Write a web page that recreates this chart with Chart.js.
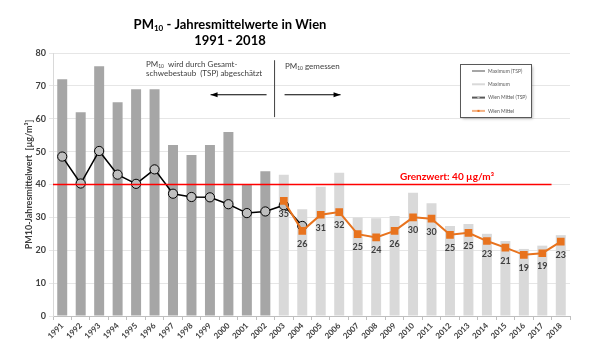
<!DOCTYPE html>
<html>
<head>
<meta charset="utf-8">
<script src="https://cdn.jsdelivr.net/npm/chart.js@4/dist/chart.umd.min.js"></script>
<style>
  html, body { margin: 0; padding: 0; background: #fff; }
  #wrap { width: 604px; height: 359px; }
</style>
</head>
<body>
<div id="wrap"><canvas id="pmChart" width="604" height="359"></canvas></div>
<script>
// Years on the x axis
const years = ['1991','1992','1993','1994','1995','1996','1997','1998','1999','2000','2001','2002','2003','2004',
  '2005','2006','2007','2008','2009','2010','2011','2012','2013','2014','2015','2016','2017','2018'];

// Maximum (TSP) bars, 1991-2002
const maxTsp = [72, 62, 76, 65, 69, 69, 52, 49, 52, 56, 40, 44,
  null, null, null, null, null, null, null, null, null, null, null, null, null, null, null, null];

// Maximum (PM10 measured) bars, 2003-2018
const maxPm10 = [null, null, null, null, null, null, null, null, null, null, null, null,
  43, 32.5, 39.3, 43.6, 30, 29.7, 30.4, 37.5, 34.3, 27.4, 28, 25, 22.8, 20.4, 21.4, 24.6];

// Wien Mittel (TSP estimated), 1991-2004
const meanTsp = [48.5, 40.3, 50.2, 43, 40.2, 44.6, 37.2, 36.2, 36.1, 34, 31.3, 31.8, 33.7, 27.4,
  null, null, null, null, null, null, null, null, null, null, null, null, null, null];

// Wien Mittel (measured), 2003-2018
const meanPm10 = [null, null, null, null, null, null, null, null, null, null, null, null,
  35, 25.9, 30.8, 31.6, 24.9, 23.9, 25.9, 30, 29.6, 24.7, 25.3, 22.8, 20.8, 18.6, 19.1, 22.6];

// Annual limit value
const limitValue = 40;

const yTicks = [0, 10, 20, 30, 40, 50, 60, 70, 80];

const textColor = '#404040';
const orange = '#e8731e';

// draw a run of text parts, some of them as subscript
function drawParts(ctx, parts, x, y, size, bold, align) {
  const w = bold ? 'bold ' : '';
  let total = 0;
  parts.forEach(p => {
    ctx.font = w + (p.sub ? size * 0.62 : size) + 'px Lato';
    total += ctx.measureText(p.t).width;
  });
  let cx = align === 'center' ? x - total / 2 : x;
  ctx.textAlign = 'left';
  ctx.textBaseline = 'middle';
  parts.forEach(p => {
    ctx.font = w + (p.sub ? size * 0.62 : size) + 'px Lato';
    ctx.fillText(p.t, cx, p.sub ? y + size * 0.25 : y);
    cx += ctx.measureText(p.t).width;
  });
}

function arrow(ctx, x1, x2, y) {
  ctx.beginPath();
  ctx.moveTo(x1, y);
  ctx.lineTo(x2, y);
  ctx.stroke();
  const d = x2 > x1 ? 1 : -1;
  ctx.beginPath();
  ctx.moveTo(x2, y);
  ctx.lineTo(x2 - d * 7, y - 2.5);
  ctx.lineTo(x2 - d * 7, y + 2.5);
  ctx.closePath();
  ctx.fill();
}

// Title, notes, limit line, value labels and legend box
const extras = {
  id: 'extras',
  beforeDraw(chart) {
    const ctx = chart.ctx;
    ctx.save();
    ctx.fillStyle = '#fff';
    ctx.fillRect(0, 0, chart.width, chart.height);
    ctx.restore();
  },
  afterDatasetsDraw(chart) {
    const ctx = chart.ctx;
    const x = chart.scales.x;
    const y = chart.scales.y;
    const area = chart.chartArea;
    ctx.save();

    // title
    ctx.fillStyle = '#000';
    drawParts(ctx, [{t: 'PM'}, {t: '10', sub: true}, {t: ' - Jahresmittelwerte in Wien'}], 230, 25, 13, true, 'center');
    drawParts(ctx, [{t: '1991 - 2018'}], 230, 41, 13, true, 'center');

    // limit line
    const ly = y.getPixelForValue(limitValue);
    const lend = (x.getPixelForValue(26) + x.getPixelForValue(27)) / 2;
    ctx.strokeStyle = '#ff0000';
    ctx.lineWidth = 1.5;
    ctx.beginPath();
    ctx.moveTo(area.left, ly);
    ctx.lineTo(lend, ly);
    ctx.stroke();
    ctx.fillStyle = '#ff0000';
    drawParts(ctx, [{t: 'Grenzwert: 40 µg/m³'}], 400, ly - 8, 10, true, 'left');

    // split between TSP and measured PM10
    const split = (x.getPixelForValue(11) + x.getPixelForValue(12)) / 2;
    ctx.strokeStyle = '#404040';
    ctx.lineWidth = 1;
    ctx.beginPath();
    ctx.moveTo(split, y.getPixelForValue(77.8));
    ctx.lineTo(split, y.getPixelForValue(60.5));
    ctx.stroke();
    ctx.fillStyle = '#000';
    ctx.strokeStyle = '#000';
    const ay = y.getPixelForValue(67.3);
    arrow(ctx, split - 8, split - 64, ay);
    arrow(ctx, split + 10, split + 66, ay);

    ctx.fillStyle = textColor;
    drawParts(ctx, [{t: 'PM'}, {t: '10', sub: true}, {t: '  wird durch Gesamt-'}], 146, 64, 8, false, 'left');
    drawParts(ctx, [{t: 'schwebestaub  (TSP) abgeschätzt'}], 146, 73, 8, false, 'left');
    drawParts(ctx, [{t: 'PM'}, {t: '10', sub: true}, {t: ' gemessen'}], 285, 66, 8, false, 'left');

    // value labels under the orange points
    const meta = chart.getDatasetMeta(3);
    ctx.fillStyle = textColor;
    ctx.font = 'bold 9px Lato';
    ctx.textAlign = 'center';
    ctx.textBaseline = 'middle';
    meta.data.forEach((pt, i) => {
      if (meanPm10[i] === null) return;
      ctx.fillText(String(Math.round(meanPm10[i])), pt.x, pt.y + 13);
    });

    // legend box
    ctx.shadowColor = 'rgba(0,0,0,0.35)';
    ctx.shadowBlur = 3;
    ctx.shadowOffsetX = 1.5;
    ctx.shadowOffsetY = 1.5;
    ctx.fillStyle = '#fff';
    ctx.fillRect(460, 64, 71, 53);
    ctx.shadowColor = 'transparent';
    ctx.strokeStyle = '#595959';
    ctx.lineWidth = 1;
    ctx.strokeRect(460.5, 64.5, 71, 53);
    const items = [
      {label: 'Maximum (TSP)', color: '#a6a6a6', mark: null},
      {label: 'Maximum', color: '#d9d9d9', mark: null},
      {label: 'Wien Mittel (TSP)', color: '#595959', mark: 'circle'},
      {label: 'Wien Mittel', color: '#f4b183', mark: 'square'}
    ];
    items.forEach((it, k) => {
      const iy = 71 + k * 13.3;
      ctx.strokeStyle = it.color;
      ctx.lineWidth = 2;
      ctx.beginPath();
      ctx.moveTo(472, iy);
      ctx.lineTo(485, iy);
      ctx.stroke();
      if (it.mark === 'circle') {
        ctx.fillStyle = '#bfbfbf';
        ctx.beginPath();
        ctx.arc(478.5, iy, 1.2, 0, Math.PI * 2);
        ctx.fill();
      } else if (it.mark === 'square') {
        ctx.fillStyle = orange;
        ctx.fillRect(477.5, iy - 1, 2, 2);
      }
      ctx.fillStyle = '#595959';
      ctx.font = '5px Lato';
      ctx.textAlign = 'left';
      ctx.textBaseline = 'middle';
      ctx.fillText(it.label, 488, iy);
    });

    ctx.restore();
  }
};

const ctx = document.getElementById('pmChart').getContext('2d');
const pmChart = new Chart(ctx, {
  type: 'bar',
  data: {
    labels: years,
    datasets: [
      {
        type: 'line', label: 'Wien Mittel (TSP)', data: meanTsp, order: 1,
        borderColor: '#000', borderWidth: 1.5, backgroundColor: '#bfbfbf',
        pointBackgroundColor: '#bfbfbf', pointBorderColor: '#000', pointBorderWidth: 1,
        pointRadius: 4.6, spanGaps: false
      },
      {
        label: 'Maximum (TSP)', data: maxTsp, order: 3, grouped: false,
        backgroundColor: '#a6a6a6', categoryPercentage: 1, barPercentage: 0.54
      },
      {
        label: 'Maximum', data: maxPm10, order: 3, grouped: false,
        backgroundColor: '#d9d9d9', categoryPercentage: 1, barPercentage: 0.54
      },
      {
        type: 'line', label: 'Wien Mittel', data: meanPm10, order: 0,
        borderColor: orange, borderWidth: 2, backgroundColor: orange,
        pointStyle: 'rect', pointRadius: 4, pointBackgroundColor: orange, pointBorderColor: orange
      }
    ]
  },
  options: {
    responsive: false,
    animation: false,
    layout: { padding: { top: 53, right: 34, left: 24, bottom: 0 } },
    plugins: {
      legend: { display: false },
      tooltip: { enabled: false }
    },
    scales: {
      x: {
        offset: true,
        grid: { display: true, drawOnChartArea: false, offset: true, tickLength: 4, color: '#bfbfbf' },
        border: { color: '#bfbfbf' },
        ticks: {
          minRotation: 45, maxRotation: 45, autoSkip: false, padding: 1,
          color: textColor, font: { family: 'Lato', size: 8, weight: 'bold' }
        },
        afterFit(scale) { scale.height = 43; }
      },
      y: {
        min: 0, max: 80,
        afterBuildTicks(scale) { scale.ticks = yTicks.map(v => ({ value: v })); },
        grid: { color: '#e6e6e6', tickLength: 4 },
        border: { color: '#d9d9d9' },
        ticks: { color: textColor, padding: 3, font: { family: 'Lato', size: 9, weight: 'bold' } },
        title: {
          display: true, text: 'PM10-Jahresmittelwert  [µg/m³]', color: textColor,
          font: { family: 'Lato', size: 9, weight: 'bold' }, padding: { top: 0, bottom: 4 }
        },
        afterFit(scale) { scale.width = 29; }
      }
    }
  },
  plugins: [extras]
});
</script>
</body>
</html>
